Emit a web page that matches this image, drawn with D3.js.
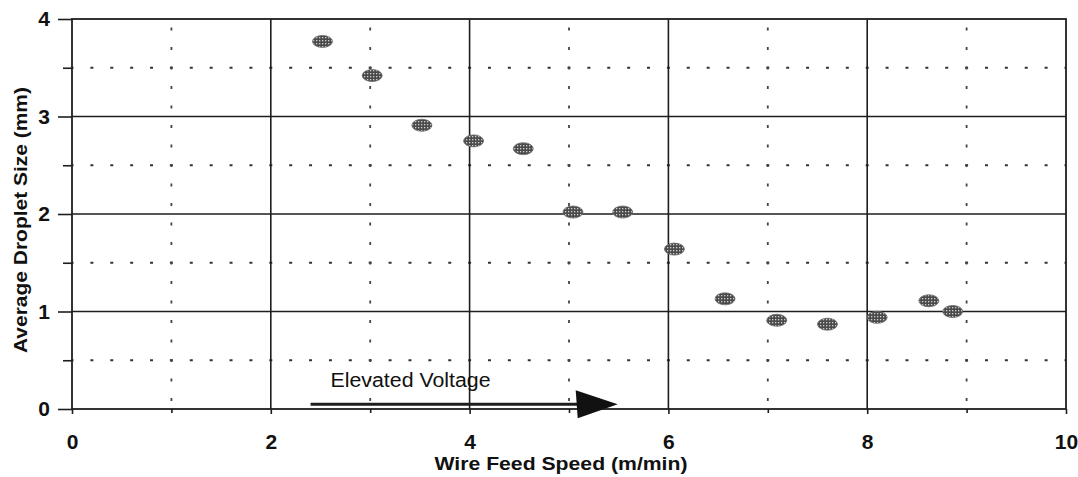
<!DOCTYPE html>
<html>
<head>
<meta charset="utf-8">
<script src="https://cdn.jsdelivr.net/npm/d3@7"></script>
<style>
  html, body { margin: 0; padding: 0; background: #fff; }
  svg { display: block; }
</style>
</head>
<body>
<svg id="chart" width="1078" height="477"></svg>
<script>
// ---- data ----
const wireFeedSpeed = [2.52, 3.02, 3.52, 4.04, 4.54, 5.04, 5.54, 6.06, 6.57, 7.09, 7.60, 8.10, 8.62, 8.86];
const dropletSize   = [3.77, 3.42, 2.91, 2.75, 2.67, 2.02, 2.02, 1.64, 1.13, 0.91, 0.87, 0.94, 1.11, 1.00];
const xMajorTicks = [0, 2, 4, 6, 8, 10];
const xMinorTicks = [1, 3, 5, 7, 9];
const yMajorTicks = [0, 1, 2, 3, 4];
const yMinorTicks = [0.5, 1.5, 2.5, 3.5];
const arrowFrom = [2.4, 0.05];
const arrowTo = [5.49, 0.05];
const annotation = "Elevated Voltage";
const xTitle = "Wire Feed Speed (m/min)";
const yTitle = "Average Droplet Size (mm)";

const svg = d3.select("#chart");
const x = d3.scaleLinear().domain([0, 10]).range([72, 1066]);
const y = d3.scaleLinear().domain([0, 4]).range([409, 19]);

const defs = svg.append("defs");
const pat = defs.append("pattern").attr("id", "hatch")
  .attr("width", 3).attr("height", 3).attr("patternUnits", "userSpaceOnUse");
pat.append("rect").attr("width", 3).attr("height", 3).attr("fill", "#4a4a4a");
pat.append("rect").attr("x", 1).attr("y", 1).attr("width", 1.3).attr("height", 1.3).attr("fill", "#d0d0d0");

const ink = "#1e1e1e";

// minor dotted gridlines (horizontal)
const stepX = x(0.2) - x(0);
svg.append("g").selectAll("line").data(yMinorTicks).join("line")
  .attr("x1", x(0)).attr("x2", x(10))
  .attr("y1", d => y(d)).attr("y2", d => y(d))
  .attr("stroke", "#333").attr("stroke-width", 2.2)
  .attr("stroke-dasharray", `3,${stepX - 3}`)
  .attr("stroke-dashoffset", 1.5 - stepX);

// minor dotted gridlines (vertical)
const stepY = y(0) - y(0.2);
svg.append("g").selectAll("line").data(xMinorTicks).join("line")
  .attr("x1", d => x(d)).attr("x2", d => x(d))
  .attr("y1", y(0)).attr("y2", y(4))
  .attr("stroke", "#444").attr("stroke-width", 1.8)
  .attr("stroke-dasharray", `3,${stepY - 3}`)
  .attr("stroke-dashoffset", -8);

// major gridlines
svg.append("g").selectAll("line").data(xMajorTicks.filter(d => d > 0 && d < 10)).join("line")
  .attr("x1", d => x(d)).attr("x2", d => x(d))
  .attr("y1", y(0)).attr("y2", y(4))
  .attr("stroke", ink).attr("stroke-width", 1.6);
svg.append("g").selectAll("line").data(yMajorTicks.filter(d => d > 0 && d < 4)).join("line")
  .attr("x1", x(0)).attr("x2", x(10))
  .attr("y1", d => y(d)).attr("y2", d => y(d))
  .attr("stroke", ink).attr("stroke-width", 1.6);

// frame
svg.append("rect")
  .attr("x", x(0)).attr("y", y(4))
  .attr("width", x(10) - x(0)).attr("height", y(0) - y(4))
  .attr("fill", "none").attr("stroke", ink).attr("stroke-width", 1.8);

// axes
const fontFam = "'Liberation Sans', Arial, Helvetica, sans-serif";
const xAxis = svg.append("g").attr("transform", `translate(0,${y(0)})`)
  .call(d3.axisBottom(x).tickValues(xMajorTicks).tickSize(5).tickPadding(20).tickFormat(d3.format("d")));
const xMinor = svg.append("g").attr("transform", `translate(0,${y(0)})`)
  .call(d3.axisBottom(x).tickValues(xMinorTicks).tickSize(4).tickFormat(""));
const yAxis = svg.append("g").attr("transform", `translate(${x(0)},0)`)
  .call(d3.axisLeft(y).tickValues(yMajorTicks).tickSize(14).tickPadding(8).tickFormat(d3.format("d")));
const yMinor = svg.append("g").attr("transform", `translate(${x(0)},0)`)
  .call(d3.axisLeft(y).tickValues(yMinorTicks).tickSize(9).tickFormat(""));
[xAxis, xMinor, yAxis, yMinor].forEach(g => {
  g.select(".domain").remove();
  g.selectAll(".tick line").attr("stroke", ink).attr("stroke-width", 1.6);
  g.selectAll("text").attr("font-family", fontFam).attr("font-weight", "bold")
    .attr("font-size", 21).attr("fill", "#111");
});

// axis titles
svg.append("text")
  .attr("x", 561).attr("y", 470)
  .attr("text-anchor", "middle")
  .attr("font-family", fontFam).attr("font-weight", "bold").attr("font-size", 19)
  .attr("textLength", 253).attr("lengthAdjust", "spacingAndGlyphs")
  .attr("fill", "#111")
  .text(xTitle);
svg.append("text")
  .attr("transform", "translate(27,220) rotate(-90)")
  .attr("text-anchor", "middle")
  .attr("font-family", fontFam).attr("font-weight", "bold").attr("font-size", 19)
  .attr("textLength", 266).attr("lengthAdjust", "spacingAndGlyphs")
  .attr("fill", "#111")
  .text(yTitle);

// annotation arrow
const ax1 = x(arrowFrom[0]), ay = y(arrowFrom[1]), ax2 = x(arrowTo[0]);
svg.append("line")
  .attr("x1", ax1).attr("x2", ax2 - 30).attr("y1", ay).attr("y2", ay)
  .attr("stroke", ink).attr("stroke-width", 3);
svg.append("path")
  .attr("d", `M${ax2},${ay} L${ax2 - 42},${ay - 14} L${ax2 - 40},${ay + 14} Z`)
  .attr("fill", "#111");
svg.append("text")
  .attr("x", ax1 + 20).attr("y", 387)
  .attr("font-family", fontFam).attr("font-size", 20)
  .attr("textLength", 160).attr("lengthAdjust", "spacingAndGlyphs")
  .attr("fill", "#111")
  .text(annotation);

// data markers
svg.append("g").selectAll("ellipse").data(wireFeedSpeed).join("ellipse")
  .attr("cx", (d, i) => x(d))
  .attr("cy", (d, i) => y(dropletSize[i]))
  .attr("rx", 10).attr("ry", 6)
  .attr("fill", "url(#hatch)")
  .attr("stroke", "#666").attr("stroke-width", 0.8);
</script>
</body>
</html>
